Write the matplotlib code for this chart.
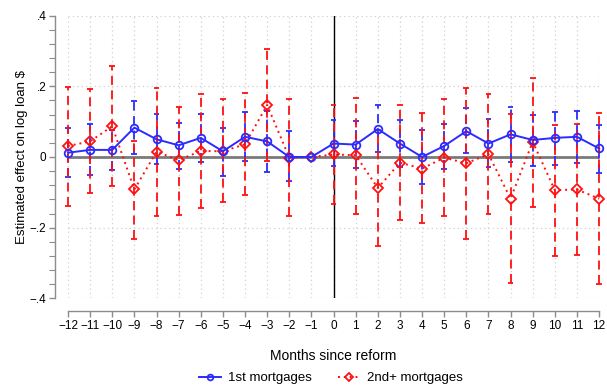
import matplotlib
matplotlib.use("Agg")
import matplotlib.pyplot as plt
from matplotlib.ticker import MultipleLocator
import numpy as np

plt.rcParams['font.family'] = ['Liberation Sans', 'DejaVu Sans']

months = list(range(-12, 13))

# 1st mortgages: point estimate, lower and upper 95% bounds
first_est = [0.012, 0.020, 0.020, 0.083, 0.050, 0.033, 0.054, 0.016, 0.057, 0.044, 0.000, 0.000,
             0.038, 0.035, 0.079, 0.038, 0.000, 0.031, 0.073, 0.038, 0.064, 0.048, 0.054, 0.057, 0.024]
first_lo = [-0.058, -0.052, -0.036, 0.009, -0.020, -0.033, -0.014, -0.054, -0.012, -0.042, -0.069, 0.000,
            -0.025, -0.030, 0.013, -0.028, -0.076, -0.033, 0.010, -0.028, -0.014, -0.025, -0.023, -0.018, -0.044]
first_hi = [0.083, 0.093, 0.076, 0.158, 0.121, 0.097, 0.122, 0.083, 0.126, 0.130, 0.073, 0.000,
            0.105, 0.102, 0.146, 0.105, 0.076, 0.093, 0.138, 0.107, 0.140, 0.119, 0.128, 0.130, 0.090]

# 2nd+ mortgages: point estimate, lower and upper 95% bounds
second_est = [0.031, 0.044, 0.087, -0.092, 0.015, -0.009, 0.017, 0.016, 0.036, 0.147, -0.002, 0.000,
              0.007, 0.005, -0.088, -0.016, -0.033, -0.002, -0.018, 0.008, -0.118, 0.043, -0.094, -0.092, -0.118]
second_lo = [-0.140, -0.102, -0.082, -0.231, -0.166, -0.163, -0.145, -0.126, -0.109, -0.011, -0.168, 0.000,
             -0.134, -0.161, -0.253, -0.177, -0.187, -0.168, -0.231, -0.161, -0.357, -0.142, -0.279, -0.277, -0.359]
second_hi = [0.199, 0.192, 0.256, 0.046, 0.196, 0.142, 0.178, 0.163, 0.182, 0.305, 0.163, 0.000,
             0.147, 0.166, 0.077, 0.147, 0.124, 0.164, 0.195, 0.178, 0.121, 0.223, 0.090, 0.093, 0.125]

x_ticks = months
x_ticklabels = [str(m).replace('-', '\u2212') for m in months]
y_ticks = [-0.4, -0.2, 0.0, 0.2, 0.4]
y_ticklabels = ['\u2212.4', '\u2212.2', '0', '.2', '.4']

blue = '#2b2bff'
red = '#ff1010'
grey_axis = '#8c8c8c'

fig = plt.figure(figsize=(6.07, 3.89), dpi=100)
ax = fig.add_axes([0.112, 0.233, 0.875, 0.727])

x = np.array(months, dtype=float)

def draw_bars(lo, hi, color, z):
    lo = np.array(lo); hi = np.array(hi)
    mask = ~((lo == 0) & (hi == 0))
    ax.vlines(x[mask], lo[mask], hi[mask], colors=color, linestyles=(0, (5, 3)),
              linewidth=1.3, zorder=z, clip_on=False)
    cap = 0.13
    ax.hlines(lo[mask], x[mask] - cap, x[mask] + cap, colors=color, linewidth=1.3,
              zorder=z, clip_on=False)
    ax.hlines(hi[mask], x[mask] - cap, x[mask] + cap, colors=color, linewidth=1.3,
              zorder=z, clip_on=False)

# reference lines and grid
ax.grid(True, which='major', color='#d0d0d0', linestyle=(0, (1, 2.5)), linewidth=0.9)
ax.set_axisbelow(True)
ax.axhline(0, color='#7a7a7a', linewidth=2.0, zorder=2)
ax.axvline(0, color='black', linewidth=1.0, zorder=2)

draw_bars(first_lo, first_hi, blue, 3)
draw_bars(second_lo, second_hi, red, 4)

ax.plot(x, second_est, linestyle=(0, (1, 2)), color=red, linewidth=1.4,
        marker='D', markersize=5.5, markerfacecolor='none', markeredgecolor=red,
        markeredgewidth=1.3, zorder=5, label='2nd+ mortgages', clip_on=False)
ax.plot(x, first_est, linestyle='-', color=blue, linewidth=1.4,
        marker='o', markersize=5.5, markerfacecolor='none', markeredgecolor=blue,
        markeredgewidth=1.3, zorder=6, label='1st mortgages', clip_on=False)

ax.set_xlim(-12, 12)
ax.set_ylim(-0.4, 0.4)
ax.set_xticks(x_ticks)
ax.set_xticklabels(x_ticklabels)
ax.set_yticks(y_ticks)
ax.set_yticklabels(y_ticklabels)
ax.yaxis.set_minor_locator(MultipleLocator(0.04))

for side in ('top', 'right'):
    ax.spines[side].set_visible(False)
for side in ('left', 'bottom'):
    ax.spines[side].set_position(('outward', 9))
    ax.spines[side].set_color(grey_axis)
    ax.spines[side].set_linewidth(1.0)

ax.tick_params(axis='both', which='major', direction='out', length=4.5, width=1.0,
               color=grey_axis, labelsize=8.5, pad=2)
ax.tick_params(axis='y', which='minor', direction='out', length=4, width=0.8, color=grey_axis)

ax.set_xlabel('Months since reform', fontsize=10, labelpad=12)
ax.set_ylabel('Estimated effect on log loan $', fontsize=9.5, labelpad=1.5)

handles, labels = ax.get_legend_handles_labels()
fig.legend(handles[::-1], labels[::-1], loc='center', bbox_to_anchor=(0.545, 0.028),
           ncol=2, frameon=False, fontsize=9.5, handlelength=1.7, columnspacing=2.0,
           handletextpad=0.5, markerscale=0.75, borderpad=0.1)

fig.savefig('out.png', dpi=100)
